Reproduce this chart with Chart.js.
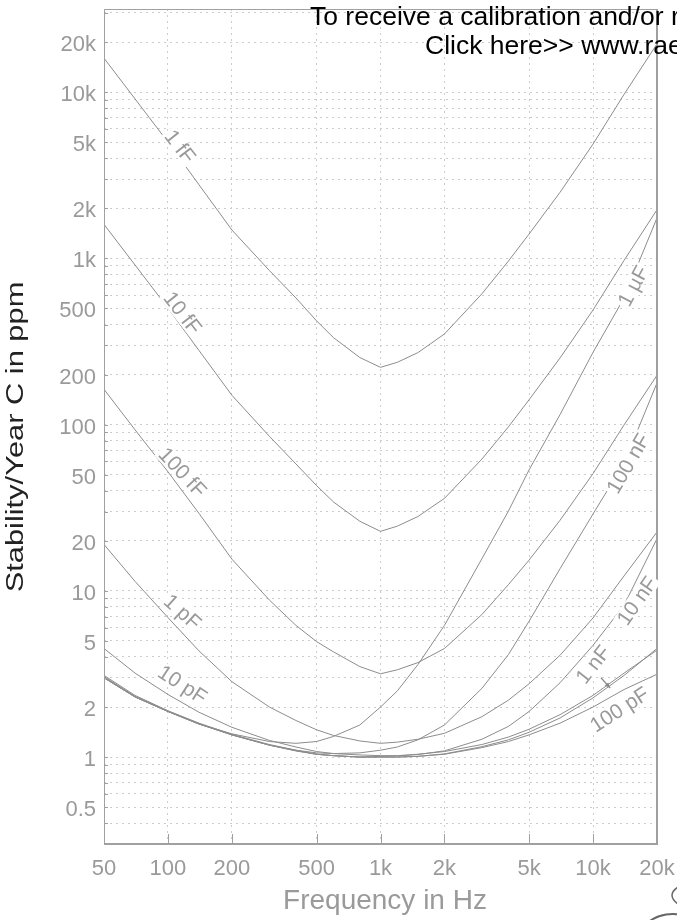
<!DOCTYPE html>
<html>
<head>
<meta charset="utf-8">
<script src="https://cdn.jsdelivr.net/npm/chart.js@4.4.0/dist/chart.umd.min.js"></script>
<style>
  html, body { margin: 0; padding: 0; background: #fff; }
  #wrap { width: 677px; height: 920px; position: relative; }
</style>
</head>
<body>
<div id="wrap"><canvas id="chart"></canvas></div>
<script>
const freqs = [50, 70, 100, 140, 200, 300, 400, 500, 600, 800, 1000, 1200, 1500, 2000, 3000, 4000, 5000, 7000, 10000, 14000, 20000];

// stability per year in ppm, one array per capacitance
const c1fF   = [16000, 9100, 5000, 2770, 1480, 845, 578, 421, 334, 253, 221, 237, 271, 351, 612, 964, 1400, 2500, 4870, 9700, 19500];
const c10fF  = [1600, 912, 502, 279, 150, 85, 58, 43, 34.3, 26.2, 22.8, 24.5, 28, 36, 62, 97, 141, 252, 489, 973, 1960];
const c100fF = [163, 93, 52, 29.2, 15.5, 8.8, 6.2, 4.95, 4.3, 3.5, 3.17, 3.35, 3.7, 4.5, 7.2, 10.9, 15.3, 26.6, 50.7, 99.6, 198];
const c1pF   = [19.0, 11.4, 6.9, 4.35, 2.84, 2.0, 1.66, 1.46, 1.35, 1.25, 1.21, 1.23, 1.28, 1.39, 1.75, 2.2, 2.76, 4.1, 6.87, 12.3, 22.6];
const c10pF  = [4.5, 3.2, 2.38, 1.86, 1.51, 1.26, 1.15, 1.08, 1.05, 1.03, 1.02, 1.02, 1.04, 1.08, 1.19, 1.32, 1.47, 1.8, 2.35, 3.2, 4.4];
const c100pF = [3.1, 2.35, 1.9, 1.6, 1.37, 1.19, 1.1, 1.04, 1.02, 1.0, 1.0, 1.0, 1.01, 1.04, 1.14, 1.24, 1.36, 1.6, 2.0, 2.55, 3.15];
const c1nF   = [3.05, 2.32, 1.89, 1.59, 1.36, 1.18, 1.09, 1.04, 1.02, 1.0, 1.0, 1.0, 1.01, 1.045, 1.155, 1.27, 1.41, 1.72, 2.27, 3.1, 4.5];
const c10nF  = [3.0, 2.3, 1.88, 1.58, 1.36, 1.18, 1.09, 1.04, 1.02, 1.0, 1.01, 1.015, 1.036, 1.09, 1.28, 1.53, 1.88, 2.8, 4.7, 8.2, 20.6];
const c100nF = [3.0, 2.3, 1.88, 1.58, 1.36, 1.18, 1.1, 1.06, 1.05, 1.06, 1.1, 1.15, 1.27, 1.56, 2.59, 4.14, 6.56, 13.6, 29, 58.6, 178];
const c1uF   = [3.0, 2.3, 1.88, 1.58, 1.38, 1.24, 1.21, 1.24, 1.33, 1.56, 2.0, 2.5, 3.6, 6.2, 15.6, 30.2, 53.4, 115, 272, 578, 1750];

const curveNames = ['1 fF', '10 fF', '100 fF', '1 pF', '10 pF', '100 pF', '1 nF', '10 nF', '100 nF', '1 µF'];
const curveValues = [c1fF, c10fF, c100fF, c1pF, c10pF, c100pF, c1nF, c10nF, c100nF, c1uF];

// curve labels: text, anchor frequency, anchor value, angle (deg)
const labelTexts  = ['1 fF', '10 fF', '100 fF', '1 pF', '10 pF', '1 µF', '100 nF', '10 nF', '1 nF', '100 pF'];
const labelFreqs  = [114, 117, 117, 117, 117, 15460, 14640, 16100, 10000, 13300];
const labelValues = [4710, 470, 51.6, 7.47, 2.73, 682, 58.4, 8.7, 3.6, 1.93];
const labelAngles = [52, 52, 47, 42, 33, -62, -60, -55, -52, -33];

// pointer from the "1 nF" label down to its curve: [freq, value]
const arrowFrom = [10900, 3.0];
const arrowTo   = [12050, 2.6];

const xTicks = [50, 100, 200, 500, 1000, 2000, 5000, 10000, 20000];
const xTickLabels = ['50', '100', '200', '500', '1k', '2k', '5k', '10k', '20k'];
const yTicks = [0.5, 1, 2, 5, 10, 20, 50, 100, 200, 500, 1000, 2000, 5000, 10000, 20000];
const yTickLabels = ['0.5', '1', '2', '5', '10', '20', '50', '100', '200', '500', '1k', '2k', '5k', '10k', '20k'];

const FONT = 'Liberation Sans, Arial, Helvetica, sans-serif';
const GREY = '#9a9a9a';
const LINE = '#8c8c8c';

// every 1..9 x 10^n inside the range gets a dotted grid line
const yGrid = [];
for (let e = -1; e <= 4; e++) {
    for (let m = 1; m <= 9; m++) {
        const v = +(m * Math.pow(10, e)).toPrecision(2);
        if (v > 0.32 && v < 31000) yGrid.push(v);
    }
}

const datasets = curveNames.map((name, i) => ({
    label: name,
    data: freqs.map((f, j) => ({ x: f, y: curveValues[i][j] })),
    borderColor: LINE,
    borderWidth: 1,
    pointRadius: 0,
    tension: 0,
    fill: false
}));

// frame, inward ticks and curve labels
const framePlugin = {
    id: 'frame',
    afterDatasetsDraw(chart) {
        const { ctx, chartArea: a, scales: { x, y } } = chart;
        ctx.save();
        ctx.strokeStyle = '#a0a0a0';
        ctx.lineWidth = 1;
        ctx.beginPath();
        yGrid.forEach(v => {
            const py = Math.round(y.getPixelForValue(v)) + 0.5;
            ctx.moveTo(a.left, py);
            ctx.lineTo(a.left + 4, py);
        });
        xTicks.slice(1, -1).forEach(v => {
            const px = Math.round(x.getPixelForValue(v)) + 0.5;
            ctx.moveTo(px, a.bottom);
            ctx.lineTo(px, a.bottom - 10);
        });
        ctx.stroke();

        ctx.beginPath();
        ctx.moveTo(a.left + 0.5, a.bottom);
        ctx.lineTo(a.left + 0.5, a.top + 0.5);
        ctx.lineTo(a.right, a.top + 0.5);
        ctx.stroke();
        ctx.lineWidth = 2;
        ctx.beginPath();
        ctx.moveTo(a.left, a.bottom);
        ctx.lineTo(a.right, a.bottom);
        ctx.lineTo(a.right, a.top);
        ctx.stroke();

        ctx.font = '21px ' + FONT;
        ctx.textAlign = 'center';
        ctx.textBaseline = 'middle';
        labelTexts.forEach((t, i) => {
            const px = x.getPixelForValue(labelFreqs[i]);
            const py = y.getPixelForValue(labelValues[i]);
            const w = ctx.measureText(t).width;
            ctx.save();
            ctx.translate(px, py);
            ctx.rotate(labelAngles[i] * Math.PI / 180);
            ctx.fillStyle = '#fff';
            ctx.fillRect(-w / 2 - 2, -9, w + 4, 18);
            ctx.fillStyle = GREY;
            ctx.fillText(t, 0, 1);
            ctx.restore();
        });

        // small arrow for the 1 nF label
        const x0 = x.getPixelForValue(arrowFrom[0]), y0 = y.getPixelForValue(arrowFrom[1]);
        const x1 = x.getPixelForValue(arrowTo[0]), y1 = y.getPixelForValue(arrowTo[1]);
        const ang = Math.atan2(y1 - y0, x1 - x0);
        ctx.strokeStyle = '#888';
        ctx.fillStyle = '#888';
        ctx.lineWidth = 1.2;
        ctx.beginPath();
        ctx.moveTo(x0, y0);
        ctx.lineTo(x1, y1);
        ctx.stroke();
        ctx.beginPath();
        ctx.moveTo(x1, y1);
        ctx.lineTo(x1 - 6 * Math.cos(ang - 0.4), y1 - 6 * Math.sin(ang - 0.4));
        ctx.lineTo(x1 - 6 * Math.cos(ang + 0.4), y1 - 6 * Math.sin(ang + 0.4));
        ctx.closePath();
        ctx.fill();
        ctx.restore();
    },
    afterDraw(chart) {
        const ctx = chart.ctx;
        ctx.save();
        // axis titles
        ctx.fillStyle = GREY;
        ctx.font = '28px ' + FONT;
        ctx.textAlign = 'center';
        ctx.textBaseline = 'alphabetic';
        ctx.fillText('Frequency in Hz', 385, 909);

        ctx.save();
        ctx.translate(17, 437);
        ctx.rotate(-Math.PI / 2);
        ctx.scale(1.34, 1);
        ctx.fillStyle = '#222';
        ctx.font = '23px ' + FONT;
        ctx.textBaseline = 'middle';
        ctx.fillText('Stability/Year C in ppm', 0, 0);
        ctx.restore();

        // overlay note at the top
        ctx.fillStyle = '#000';
        ctx.font = '26.5px ' + FONT;
        ctx.textAlign = 'left';
        ctx.fillText('To receive a calibration and/or r', 310, 25);
        ctx.fillText('Click here>> www.rae', 425, 54);

        // corner of the logo peeking in at the bottom right
        ctx.strokeStyle = '#666';
        ctx.lineWidth = 2;
        ctx.beginPath();
        ctx.arc(672, 952, 38, Math.PI * 1.2, Math.PI * 1.95);
        ctx.stroke();
        ctx.lineWidth = 1.5;
        ctx.beginPath();
        ctx.moveTo(678, 887);
        ctx.quadraticCurveTo(666, 895, 678, 904);
        ctx.stroke();
        ctx.restore();
    }
};

new Chart(document.getElementById('chart'), {
    type: 'line',
    data: { datasets },
    options: {
        responsive: true,
        maintainAspectRatio: false,
        animation: false,
        devicePixelRatio: 1,
        layout: { padding: { top: 9, right: 20, left: 0, bottom: 0 } },
        plugins: { legend: { display: false }, tooltip: { enabled: false } },
        scales: {
            x: {
                type: 'logarithmic',
                min: 50,
                max: 20000,
                afterBuildTicks: s => { s.ticks = xTicks.map(v => ({ value: v })); },
                afterFit: s => { s.height = 76; s.paddingLeft = 0; s.paddingRight = 0; },
                grid: { color: '#cccccc', lineWidth: 1, drawTicks: false },
                border: { display: false, dash: [2, 4] },
                ticks: {
                    autoSkip: false,
                    maxRotation: 0,
                    padding: 12,
                    color: GREY,
                    font: { family: FONT, size: 22 },
                    callback: v => xTickLabels[xTicks.indexOf(v)] ?? ''
                }
            },
            y: {
                type: 'logarithmic',
                min: Math.pow(10, -0.5),
                max: Math.pow(10, 4.5),
                afterBuildTicks: s => { s.ticks = yGrid.map(v => ({ value: v })); },
                afterFit: s => { s.width = 104; s.paddingTop = 0; s.paddingBottom = 0; },
                grid: { color: '#cccccc', lineWidth: 1, drawTicks: false },
                border: { display: false, dash: [2, 4] },
                ticks: {
                    autoSkip: false,
                    padding: 8,
                    labelOffset: 3,
                    color: GREY,
                    font: { family: FONT, size: 22 },
                    callback: v => yTickLabels[yTicks.indexOf(v)] ?? ''
                }
            }
        }
    },
    plugins: [framePlugin]
});
</script>
</body>
</html>
